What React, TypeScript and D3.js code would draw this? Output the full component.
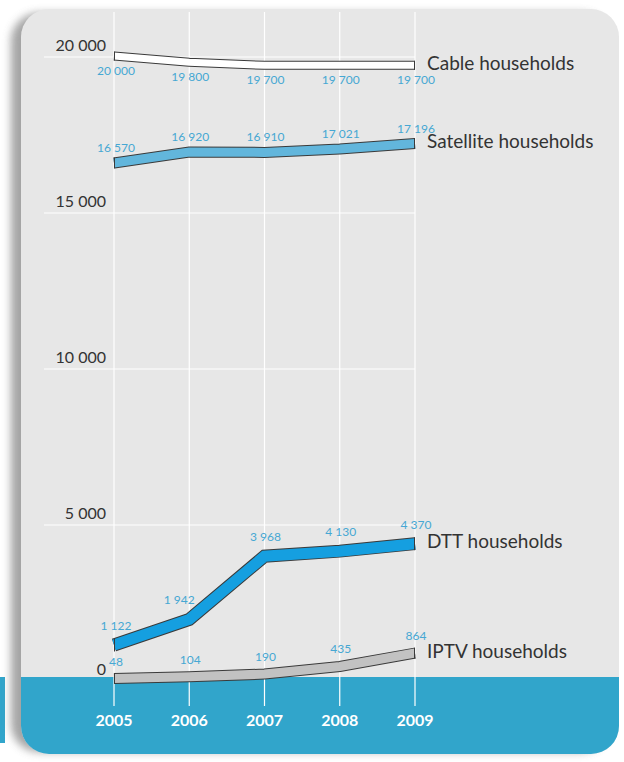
import React from "react";
import * as d3 from "d3";

const years = ["2005", "2006", "2007", "2008", "2009"];
const cable = [20000, 19800, 19700, 19700, 19700];
const satellite = [16570, 16920, 16910, 17021, 17196];
const dtt = [1122, 1942, 3968, 4130, 4370];
const iptv = [48, 104, 190, 435, 864];
const yTicks = [0, 5000, 10000, 15000, 20000];
const seriesNames = ["Cable households", "Satellite households", "DTT households", "IPTV households"];

const W = 624;
const H = 762;

const fmt = (v: number) => {
  const s = String(v);
  return s.length > 3 ? s.slice(0, s.length - 3) + " " + s.slice(-3) : s;
};

export default function App() {
  const x = d3.scalePoint<string>().domain(years).range([114, 415]);
  const y = d3.scaleLinear().domain([0, 20000]).range([680, 56]);

  const series = [
    { name: seriesNames[0], values: cable, fill: "#ffffff", w: 7, dy: 16 },
    { name: seriesNames[1], values: satellite, fill: "#62b6dc", w: 9, dy: -14 },
    { name: seriesNames[2], values: dtt, fill: "#159fe0", w: 11, dy: -18 },
    { name: seriesNames[3], values: iptv, fill: "#c2c2c2", w: 9, dy: -16 },
  ];

  const line = d3
    .line<number>()
    .x((_, i) => x(years[i]) as number)
    .y((d) => y(d));

  const panelX = 21;
  const panelY = 9;
  const panelW = 598;
  const panelH = 745;
  const bandTop = 677;
  const r = 28;
  const gridTop = 12;

  const labelFont = "Lato, 'Open Sans', sans-serif";

  const labelDx = (vals: number[], i: number) => {
    if (i === 0) return 2;
    if (i < vals.length - 1) {
      const rise = y(vals[i]) - y(vals[i + 1]);
      if (rise > 40) return -10;
    }
    return 1;
  };

  return (
    <svg
      width={W}
      height={H}
      style={{ position: "absolute", left: 0, top: 0, display: "block" }}
      xmlns="http://www.w3.org/2000/svg"
    >
      <defs>
        <filter id="shadow" x="-10%" y="-10%" width="120%" height="120%">
          <feGaussianBlur stdDeviation="4" />
        </filter>
        <clipPath id="panelClip">
          <rect x={panelX} y={panelY} width={panelW} height={panelH} rx={r} ry={r} />
        </clipPath>
      </defs>
      <rect x={0} y={0} width={W} height={H} fill="#ffffff" />
      <rect x={0} y={bandTop} width={5} height={66} fill="#31a5cb" />
      <rect
        x={panelX - 10}
        y={panelY + 4}
        width={panelW}
        height={panelH - 6}
        rx={r}
        ry={r}
        fill="#8e8e8e"
        opacity={0.8}
        filter="url(#shadow)"
      />
      <g clipPath="url(#panelClip)">
        <rect x={panelX} y={panelY} width={panelW} height={panelH} fill="#e7e7e7" />
        <rect x={panelX} y={bandTop} width={panelW} height={panelH} fill="#31a5cb" />
      </g>

      {years.map((yr) => (
        <line
          key={"v" + yr}
          x1={x(yr)}
          x2={x(yr)}
          y1={gridTop}
          y2={706}
          stroke="#ffffff"
          strokeWidth={1.2}
        />
      ))}
      {yTicks
        .filter((t) => t > 0)
        .map((t) => (
          <line
            key={"h" + t}
            x1={44}
            x2={415}
            y1={y(t) + 1}
            y2={y(t) + 1}
            stroke="#ffffff"
            strokeWidth={1.2}
          />
        ))}
      {yTicks.map((t) => (
        <text
          key={"t" + t}
          x={106}
          y={y(t) - 5}
          textAnchor="end"
          fontFamily={labelFont}
          fontSize={16}
          fill="#333333"
        >
          {fmt(t)}
        </text>
      ))}

      {series.map((s) => {
        const n = s.values.length;
        const x0 = x(years[0]) as number;
        const x1 = x(years[n - 1]) as number;
        const y0 = y(s.values[0]);
        const y1 = y(s.values[n - 1]);
        const h = s.w / 2 + 1;
        return (
          <g key={s.name}>
            <path
              d={line(s.values) || ""}
              fill="none"
              stroke="#3a3a3a"
              strokeWidth={s.w + 2}
              strokeLinejoin="miter"
              strokeLinecap="butt"
            />
            <path
              d={line(s.values) || ""}
              fill="none"
              stroke={s.fill}
              strokeWidth={s.w}
              strokeLinejoin="miter"
              strokeLinecap="butt"
            />
            <line x1={x0 + 0.5} x2={x0 + 0.5} y1={y0 - h} y2={y0 + h} stroke="#3a3a3a" strokeWidth={1} />
            <line x1={x1 - 0.5} x2={x1 - 0.5} y1={y1 - h} y2={y1 + h} stroke="#3a3a3a" strokeWidth={1} />
          </g>
        );
      })}

      {series.map((s) =>
        s.values.map((v, i) => (
          <text
            key={s.name + i}
            x={(x(years[i]) as number) + labelDx(s.values, i)}
            y={y(v) + s.dy}
            textAnchor="middle"
            dominantBaseline="middle"
            fontFamily={labelFont}
            fontSize={12}
            fill="#46a7d3"
          >
            {fmt(v)}
          </text>
        ))
      )}

      {series.map((s) => (
        <text
          key={"n" + s.name}
          x={427}
          y={y(s.values[s.values.length - 1])}
          dominantBaseline="middle"
          fontFamily={labelFont}
          fontSize={19}
          fill="#333333"
        >
          {s.name}
        </text>
      ))}

      {years.map((yr) => (
        <text
          key={"y" + yr}
          x={x(yr)}
          y={722}
          textAnchor="middle"
          dominantBaseline="middle"
          fontFamily={labelFont}
          fontWeight="bold"
          fontSize={16}
          fill="#ffffff"
        >
          {yr}
        </text>
      ))}
    </svg>
  );
}
